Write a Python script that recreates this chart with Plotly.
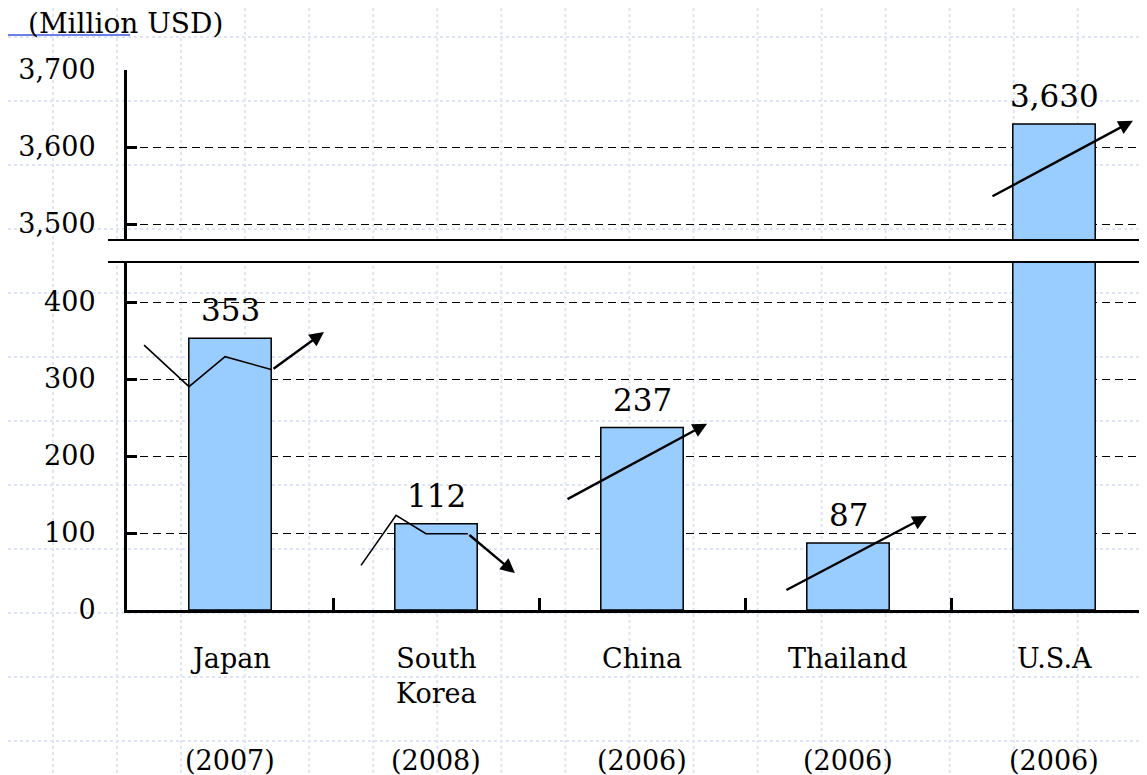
import plotly.graph_objects as go

# ---------------- data ----------------
countries = ["Japan", "South<br>Korea", "China", "Thailand", "U.S.A"]
years = ["(2007)", "(2008)", "(2006)", "(2006)", "(2006)"]
values = [353, 112, 237, 87, 3630]
value_labels = ["353", "112", "237", "87", "3,630"]

lower_ticks = [0, 100, 200, 300, 400]
upper_ticks = [3500, 3600, 3700]

# trend arrows: polyline points (x in category units, y in data units); last point = arrow tip
trend_japan = {"x": [-0.417, -0.199, -0.024, 0.204, 0.456], "y": [344, 290, 329, 312, 361], "axis": "y"}
trend_korea = {"x": [0.636, 0.806, 0.951, 1.155, 1.383], "y": [58, 123, 99, 99, 48], "axis": "y"}
trend_china = {"x": [1.631, 2.316], "y": [143, 242], "axis": "y"}
trend_thai = {"x": [2.694, 3.383], "y": [25, 122], "axis": "y"}
trend_usa = {"x": [3.694, 4.383], "y": [3535, 3634], "axis": "y2"}
trends = [trend_japan, trend_korea, trend_china, trend_thai, trend_usa]

# ---------------- layout geometry (window pixels) ----------------
OFF = 8  # page body margin
WIN_W, WIN_H = 1147, 775
PLOT_L, PLOT_R, PLOT_T, PLOT_B = 127, 1147, 70, 610   # plot area in window pixels
W, H = WIN_W - OFF, WIN_H - OFF
L = PLOT_L - OFF
T = PLOT_T - OFF
B = H - (PLOT_B - OFF)
R = W - (PLOT_R - OFF)
PW, PH = PLOT_R - PLOT_L, PLOT_B - PLOT_T
px_per_cat = 206.0


def px2paper_x(px):
    return (px - PLOT_L) / PW


def px2paper_y(py):
    return (PLOT_B - py) / PH


lower_top_px, upper_bot_px = 262, 240
lower_dom = [0, px2paper_y(lower_top_px)]
upper_dom = [px2paper_y(upper_bot_px), 1]
lower_range = [0, (PLOT_B - lower_top_px) / 0.77]
upper_range = [3700 - (upper_bot_px - PLOT_T) / 0.77, 3700]
x_range = [-0.5, -0.5 + PW / px_per_cat]

FONT = "DejaVu Serif"
BAR_COLOR = "#99ccff"

fig = go.Figure()

# lower panel bars
fig.add_trace(go.Bar(
    x=list(range(len(countries))), y=values, width=0.4,
    marker=dict(color=BAR_COLOR, line=dict(color="black", width=1.5)),
    xaxis="x", yaxis="y", showlegend=False, hoverinfo="skip",
))
# upper panel bar (only the large one)
fig.add_trace(go.Bar(
    x=[4], y=[values[4]], width=0.4,
    marker=dict(color=BAR_COLOR, line=dict(color="black", width=1.5)),
    xaxis="x", yaxis="y2", showlegend=False, hoverinfo="skip",
))

annotations = []
# trend lines + arrows
for tr in trends:
    xs, ys, ax = tr["x"], tr["y"], tr["axis"]
    if len(xs) > 2:
        fig.add_trace(go.Scatter(
            x=xs[:-1], y=ys[:-1], mode="lines",
            line=dict(color="black", width=1.6),
            xaxis="x", yaxis=ax, showlegend=False, hoverinfo="skip", cliponaxis=False,
        ))
    annotations.append(dict(
        x=xs[-1], y=ys[-1], ax=xs[-2], ay=ys[-2],
        xref="x", yref=ax, axref="x", ayref=ax,
        showarrow=True, arrowhead=2, arrowsize=1.2, arrowwidth=2.4,
        arrowcolor="black", text="",
    ))

# value labels
for i, (v, lab) in enumerate(zip(values, value_labels)):
    annotations.append(dict(
        x=i, y=v, xref="x", yref="y2" if i == 4 else "y",
        text=lab, showarrow=False, yanchor="bottom", yshift=8,
        font=dict(family=FONT, size=31, color="black"),
    ))

# category names (first line centred at y=660) and years (y=760)
for i, (name, yr) in enumerate(zip(countries, years)):
    annotations.append(dict(
        x=i, y=px2paper_y(660 - 19), xref="x", yref="paper", text=name,
        showarrow=False, yanchor="top",
        font=dict(family=FONT, size=27, color="black"),
    ))
    annotations.append(dict(
        x=i, y=px2paper_y(760), xref="x", yref="paper", text=yr,
        showarrow=False, yanchor="middle",
        font=dict(family=FONT, size=27, color="black"),
    ))

# unit title
annotations.append(dict(
    x=px2paper_x(26), y=px2paper_y(24), xref="paper", yref="paper",
    text="(Million USD)", showarrow=False, xanchor="left", yanchor="middle",
    font=dict(family=FONT, size=28, color="black"),
))

shapes = []
# faint slide background grid
GRID_C = "#dfe4f7"
gx = 53.0
while gx < WIN_W:
    shapes.append(dict(type="line", xref="paper", yref="paper",
                       x0=px2paper_x(gx), x1=px2paper_x(gx), y0=px2paper_y(OFF), y1=px2paper_y(WIN_H),
                       line=dict(color=GRID_C, width=2, dash="dot"), layer="below"))
    gx += 64.05
gy = 37.0
while gy < WIN_H:
    shapes.append(dict(type="line", xref="paper", yref="paper",
                       x0=px2paper_x(OFF), x1=px2paper_x(WIN_W), y0=px2paper_y(gy), y1=px2paper_y(gy),
                       line=dict(color=GRID_C, width=2, dash="dot"), layer="below"))
    gy += 64.0

# blue decorative line under the title
shapes.append(dict(type="line", xref="paper", yref="paper",
                   x0=px2paper_x(OFF), x1=px2paper_x(130), y0=px2paper_y(35), y1=px2paper_y(35),
                   line=dict(color="#6b80e6", width=2)))

# axis break band
shapes.append(dict(type="rect", xref="paper", yref="paper",
                   x0=px2paper_x(108), x1=1.01, y0=lower_dom[1], y1=upper_dom[0],
                   fillcolor="white", line=dict(width=0), layer="above"))
for yb in (lower_dom[1], upper_dom[0]):
    shapes.append(dict(type="line", xref="paper", yref="paper",
                       x0=px2paper_x(108), x1=1.01, y0=yb, y1=yb,
                       line=dict(color="black", width=2), layer="above"))

fig.update_layout(
    width=W, height=H,
    margin=dict(l=L, r=R, t=T, b=B, pad=0),
    paper_bgcolor="white", plot_bgcolor="rgba(0,0,0,0)",
    font=dict(family=FONT, color="black"),
    xaxis=dict(
        domain=[0, 1], range=x_range, anchor="y",
        tickmode="array", tickvals=[0.5, 1.5, 2.5, 3.5], ticktext=["", "", "", ""],
        ticks="inside", ticklen=12, tickwidth=3, tickcolor="black",
        showline=True, linewidth=3, linecolor="black", showgrid=False, zeroline=False,
    ),
    yaxis=dict(
        domain=lower_dom, range=lower_range, anchor="x",
        tickmode="array", tickvals=lower_ticks, tickformat=",d",
        ticks="inside", ticklen=10, tickwidth=3, tickcolor="black",
        showline=True, linewidth=3, linecolor="black", zeroline=False,
        showgrid=True, gridcolor="black", gridwidth=1, griddash="8px,5px",
        tickfont=dict(family=FONT, size=27, color="black"), ticklabelstandoff=23,
    ),
    yaxis2=dict(
        domain=upper_dom, range=upper_range, anchor="x",
        tickmode="array", tickvals=upper_ticks, tickformat=",d",
        ticks="inside", ticklen=10, tickwidth=3, tickcolor="black",
        showline=True, linewidth=3, linecolor="black", zeroline=False,
        showgrid=True, gridcolor="black", gridwidth=1, griddash="8px,5px",
        tickfont=dict(family=FONT, size=27, color="black"), ticklabelstandoff=23,
    ),
    annotations=annotations,
    shapes=shapes,
)

fig.write_html("out.html")
